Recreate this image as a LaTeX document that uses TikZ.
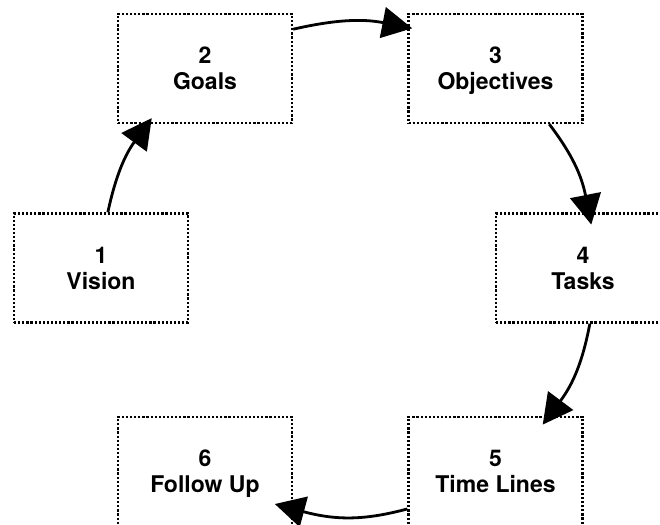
\documentclass[tikz,border=0pt]{standalone}
\usepackage{fontspec}
\setmainfont{TeX Gyre Heros}
\usetikzlibrary{arrows.meta}

\begin{document}
\begin{tikzpicture}[x=1pt,y=1pt,
  stage/.style={draw, line width=2.4pt, dash pattern=on 2.2pt off 1.9pt,
    minimum width=174pt, minimum height=109pt, inner sep=0pt,
    align=center, text depth=0pt,
    font=\fontsize{23}{26}\selectfont\bfseries},
  flow/.style={line width=2.8pt, -{Triangle[length=30pt,width=31pt]},
    bend left=#1},
  flow/.default=13]

\useasboundingbox (0,0) rectangle (660,524);

%---------------------------------------
% Stages
%---------------------------------------
\node[stage] (vision)     at (101,256)     {1\\Vision};
\node[stage] (goals)      at (205,455.5)   {2\\Goals};
\node[stage] (objectives) at (495.5,455.5) {3\\Objectives};
\node[stage] (tasks)      at (583,256)     {4\\Tasks};
\node[stage] (timelines)  at (495.5,52.5)  {5\\Time Lines};
\node[stage] (followup)   at (205,52.5)    {6\\Follow Up};

%---------------------------------------
% Cycle arrows
%---------------------------------------
\draw[flow=12, shorten >=-7.5pt] (vision.83) to (goals.224);
\draw[flow=12, shorten >=-5pt]   (goals.24) to (objectives.155);
\draw[flow=13, shorten >=-12.5pt] (objectives.-46) to (tasks.84);
\draw[flow=13, shorten >=-11pt]  (tasks.-83) to (timelines.46);
\draw[flow=15, shorten >=-19pt]  (timelines.203) to (followup.-23);

\end{tikzpicture}
\end{document}
